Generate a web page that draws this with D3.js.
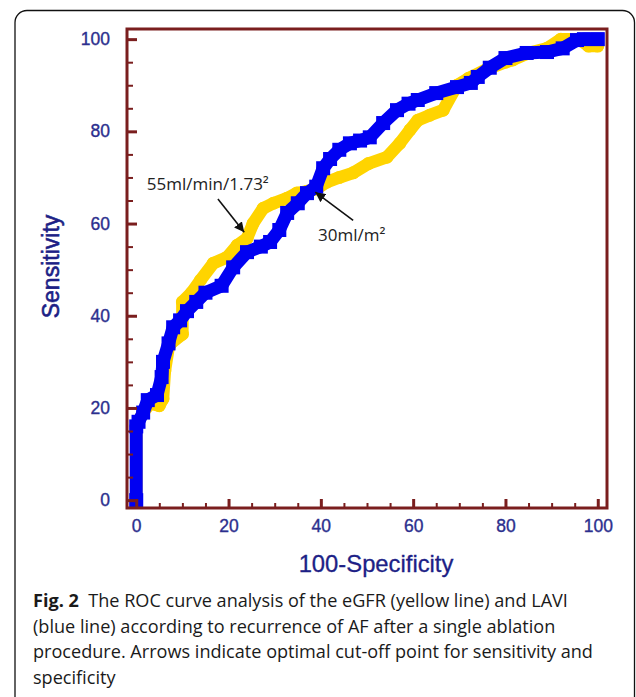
<!DOCTYPE html>
<html>
<head>
<meta charset="utf-8">
<script src="https://cdn.jsdelivr.net/npm/d3@7"></script>
<style>
  html, body { margin: 0; padding: 0; background: #fff; }
  svg { display: block; }
</style>
</head>
<body>
<div id="chart"></div>
<script>

// LAVI ROC curve (blue line): 100-specificity / sensitivity
var laviX = [0, 0, 0.5, 1.5, 2.5, 4.5, 5.5, 5.8, 7, 8, 9.5, 11, 13, 15, 18.5, 21, 24, 27, 29, 31, 32.7, 35, 37, 39, 40.5, 42, 44, 46.3, 48.5, 50.6, 53.5, 56.5, 59, 61, 65, 69.5, 72.5, 74, 76.6, 80, 84.6, 89, 92.4, 95.5, 97, 100];
var laviY = [0, 16, 17, 19, 21.7, 22.8, 26.7, 30, 34, 37.5, 39, 41, 43, 45, 46.5, 50.5, 53.8, 55, 56, 58.6, 62.3, 64.4, 66.6, 68, 72, 74, 76, 77.4, 78, 78.7, 81.8, 84.6, 86, 86.8, 88.3, 89.6, 90.5, 91.8, 93.8, 95.9, 97, 97.2, 98, 99.8, 100, 100];

// eGFR ROC curve (yellow line)
var egfrX = [0, 0, 0.5, 1.5, 3, 5, 5.8, 6.2, 7, 7.5, 10, 10, 12, 13.9, 16.7, 19.7, 21.9, 24, 25.3, 27.5, 29.7, 32.7, 34.8, 37, 39, 41.3, 44, 47, 50.3, 54.3, 57.1, 59.3, 61, 63.6, 66.5, 69.5, 72, 76, 80, 81.6, 85, 89, 92, 96, 98, 100];
var egfrY = [0, 16, 17, 19, 21, 20.5, 22, 28, 33, 34, 36, 43, 45, 47.7, 51.4, 52.7, 55.3, 56.8, 60, 63.3, 64.4, 65.5, 66.6, 67, 67.5, 69, 70, 71, 73, 74.4, 77.4, 80.3, 82.4, 83.5, 84.6, 90, 91.5, 93.5, 95, 95.5, 97, 98, 100, 100, 98.5, 98.5];

var xTicks = [0, 20, 40, 60, 80, 100];
var yTicks = [0, 20, 40, 60, 80, 100];
var minorTicks = [5, 10, 15, 25, 30, 35, 45, 50, 55, 65, 70, 75, 85, 90, 95];

// cut-off annotations (data coordinates)
var annoText = ["55ml/min/1.73\u00b2", "30ml/m\u00b2"];
var annoTextX = [2.3, 39.4];
var annoTextY = [67.3, 56.3];
var arrowFromX = [17.7, 47];
var arrowFromY = [65.3, 60.7];
var arrowToX = [23.4, 38.8];
var arrowToY = [58.1, 66.8];

var xLabel = "100-Specificity";
var yLabel = "Sensitivity";

var captionBold = "Fig. 2";
var captionLines = [
    "The ROC curve analysis of the eGFR (yellow line) and LAVI",
    "(blue line) according to recurrence of AF after a single ablation",
    "procedure. Arrows indicate optimal cut-off point for sensitivity and",
    "specificity"
];

var width = 636;
var height = 697;

var plot = {
    left: 127,
    right: 607,
    top: 29,
    bottom: 508
};

var frameColor = "#7a1e1e";
var tickTextColor = "#2c2f8e";
var labelColor = "#1d1f86";
var blue = "#0000f2";
var yellow = "#ffd400";

var svg = d3.select("#chart")
    .append("svg")
    .attr("width", width)
    .attr("height", height);

// rounded figure box
svg.append("rect")
    .attr("x", 15)
    .attr("y", 10.5)
    .attr("width", 619.5)
    .attr("height", 740)
    .attr("rx", 12)
    .attr("fill", "none")
    .attr("stroke", "#111")
    .attr("stroke-width", 1.3);

var x = d3.scaleLinear()
    .domain([-2, 102])
    .range([plot.left, plot.right]);

var y = d3.scaleLinear()
    .domain([-1.7, 102.2])
    .range([plot.bottom, plot.top]);

var line = d3.line()
    .x(function(d) { return x(d[0]); })
    .y(function(d) { return y(d[1]); });

var egfr = d3.zip(egfrX, egfrY);
var lavi = d3.zip(laviX, laviY);

// yellow line first, blue drawn over it
svg.append("path")
    .datum(egfr)
    .attr("d", line)
    .attr("fill", "none")
    .attr("stroke", yellow)
    .attr("stroke-width", 12.5)
    .attr("stroke-linejoin", "round")
    .attr("stroke-linecap", "round");

svg.selectAll(".egfr-dot")
    .data(egfr)
    .enter()
    .append("circle")
    .attr("class", "egfr-dot")
    .attr("cx", function(d) { return x(d[0]); })
    .attr("cy", function(d) { return y(d[1]); })
    .attr("r", 6.5)
    .attr("fill", yellow);

svg.append("path")
    .datum(lavi)
    .attr("d", line)
    .attr("fill", "none")
    .attr("stroke", blue)
    .attr("stroke-width", 13)
    .attr("stroke-linejoin", "miter")
    .attr("stroke-linecap", "square");

svg.selectAll(".lavi-dot")
    .data(lavi)
    .enter()
    .append("rect")
    .attr("class", "lavi-dot")
    .attr("x", function(d) { return x(d[0]) - 7; })
    .attr("y", function(d) { return y(d[1]) - 7; })
    .attr("width", 14)
    .attr("height", 14)
    .attr("fill", blue);

// frame
svg.append("rect")
    .attr("x", plot.left)
    .attr("y", plot.top)
    .attr("width", plot.right - plot.left)
    .attr("height", plot.bottom - plot.top)
    .attr("fill", "none")
    .attr("stroke", frameColor)
    .attr("stroke-width", 3);

// axes, ticks point inwards
var yAxis = svg.append("g")
    .attr("transform", "translate(" + plot.left + ",0)")
    .call(d3.axisLeft(y)
        .tickValues(yTicks)
        .tickSizeInner(-10)
        .tickSizeOuter(0)
        .tickPadding(17));

var xAxis = svg.append("g")
    .attr("transform", "translate(0," + plot.bottom + ")")
    .call(d3.axisBottom(x)
        .tickValues(xTicks)
        .tickSizeInner(-9)
        .tickSizeOuter(0)
        .tickPadding(12));

var yMinor = svg.append("g")
    .attr("transform", "translate(" + plot.left + ",0)")
    .call(d3.axisLeft(y)
        .tickValues(minorTicks)
        .tickSize(-6)
        .tickFormat(""));

var xMinor = svg.append("g")
    .attr("transform", "translate(0," + plot.bottom + ")")
    .call(d3.axisBottom(x)
        .tickValues(minorTicks)
        .tickSize(-5)
        .tickFormat(""));

[yAxis, xAxis, yMinor, xMinor].forEach(function(g) {
    g.select(".domain").remove();
    g.selectAll(".tick line")
        .attr("stroke", frameColor)
        .attr("stroke-width", 3);
    g.selectAll(".tick text")
        .attr("font-family", "'Liberation Sans', Arial, sans-serif")
        .attr("font-size", 17.5)
        .attr("fill", tickTextColor)
        .attr("stroke", tickTextColor)
        .attr("stroke-width", 0.35);
});

yMinor.selectAll(".tick line").attr("stroke-width", 2);
xMinor.selectAll(".tick line").attr("stroke-width", 2);

// axis titles
svg.append("text")
    .attr("transform", "translate(59," + 266.5 + ")rotate(-90)")
    .attr("text-anchor", "middle")
    .attr("font-family", "'Liberation Sans', Arial, sans-serif")
    .attr("font-size", 23)
    .attr("fill", labelColor)
    .attr("stroke", labelColor)
    .attr("stroke-width", 0.6)
    .text(yLabel);

svg.append("text")
    .attr("x", (plot.left + plot.right) / 2 + 9)
    .attr("y", 572)
    .attr("text-anchor", "middle")
    .attr("font-family", "'Liberation Sans', Arial, sans-serif")
    .attr("font-size", 23.8)
    .attr("fill", labelColor)
    .attr("stroke", labelColor)
    .attr("stroke-width", 0.3)
    .text(xLabel);

// arrows pointing at the cut-off points
svg.append("defs")
    .append("marker")
    .attr("id", "arrowhead")
    .attr("viewBox", "0 0 10 10")
    .attr("refX", 10)
    .attr("refY", 5)
    .attr("markerWidth", 10)
    .attr("markerHeight", 10)
    .attr("markerUnits", "userSpaceOnUse")
    .attr("orient", "auto")
    .append("path")
    .attr("d", "M0,0L10,5L0,10z")
    .attr("fill", "#111");

svg.selectAll(".anno-arrow")
    .data(annoText)
    .enter()
    .append("line")
    .attr("class", "anno-arrow")
    .attr("x1", function(d, i) { return x(arrowFromX[i]); })
    .attr("y1", function(d, i) { return y(arrowFromY[i]); })
    .attr("x2", function(d, i) { return x(arrowToX[i]); })
    .attr("y2", function(d, i) { return y(arrowToY[i]); })
    .attr("stroke", "#111")
    .attr("stroke-width", 1.6)
    .attr("marker-end", "url(#arrowhead)");

svg.selectAll(".anno-text")
    .data(annoText)
    .enter()
    .append("text")
    .attr("class", "anno-text")
    .attr("x", function(d, i) { return x(annoTextX[i]); })
    .attr("y", function(d, i) { return y(annoTextY[i]); })
    .attr("font-family", "'Open Sans', sans-serif")
    .attr("font-size", 17)
    .attr("fill", "#222")
    .text(function(d) { return d; });

// caption
var caption = svg.append("g")
    .attr("font-family", "'Open Sans', sans-serif")
    .attr("font-size", 18.1)
    .attr("fill", "#1a1a1a");

captionLines.forEach(function(t, i) {
    var txt = caption.append("text")
        .attr("x", 33)
        .attr("y", 607 + i * 25.7);
    if (i === 0) {
        txt.append("tspan")
            .attr("font-weight", "bold")
            .text(captionBold + "\u00a0\u00a0");
    }
    txt.append("tspan").text(t);
});

</script>
</body>
</html>
